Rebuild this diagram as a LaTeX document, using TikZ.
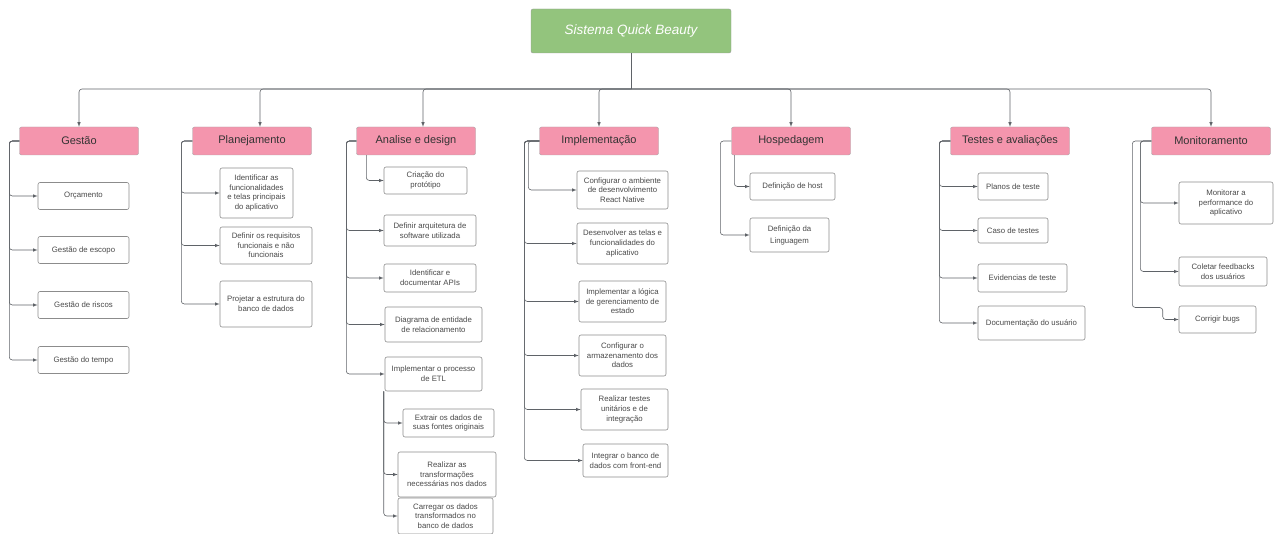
\documentclass[tikz,border=0pt]{standalone}
\usepackage{fontspec}
\setmainfont{Liberation Sans}
\usepackage{tikz}
\usetikzlibrary{arrows}

\definecolor{rootgreen}{HTML}{93C47D}
\definecolor{phasepink}{HTML}{F495AD}
\definecolor{linegray}{HTML}{5F6368}
\definecolor{textgray}{HTML}{4A4A4A}

\tikzstyle{root} = [rectangle, rounded corners=2pt, minimum width=200pt, minimum height=44pt, text centered, draw=black!40, fill=rootgreen, text=white, font=\fontsize{13.5}{15}\selectfont\itshape]
\tikzstyle{phase} = [rectangle, rounded corners=2pt, minimum width=119pt, minimum height=28pt, text centered, draw=black!35, fill=phasepink, text=black!80, font=\fontsize{11}{13}\selectfont]
\tikzstyle{task} = [rectangle, rounded corners=2pt, inner sep=1pt, align=center, draw=black!45, line width=0.6pt, fill=white, text=textgray, font=\fontsize{7.8}{9.6}\selectfont]
\tikzstyle{arrow} = [draw=linegray, line width=0.6pt, rounded corners=3pt, ->, >=latex]
\tikzstyle{line} = [draw=linegray, line width=0.6pt]

\begin{document}
\begin{tikzpicture}[x=1pt, y=-1pt]
\useasboundingbox (0,0) rectangle (1274,534);

% root and phases
\node (root) [root] at (631,31) {Sistema Quick Beauty};
\node (gestao) [phase] at (79,141) {Gestão};
\node (plan) [phase] at (252,141) {Planejamento};
\node (ana) [phase] at (416,141) {Analise e design};
\node (impl) [phase] at (599,141) {Implementação};
\node (hosp) [phase] at (791,141) {Hospedagem};
\node (test) [phase] at (1010,141) {Testes e avaliações};
\node (mon) [phase] at (1211,141) {Monitoramento};

\coordinate (bus) at (631,89);
\draw [line] (root.south) -- (bus);
\foreach \p/\dx in {gestao/0,plan/8,ana/7,impl/0,hosp/0,test/0,mon/0}
  \draw [arrow] (bus) -| ([xshift=\dx pt]\p.north);

% Gestao
\node (orc) [task, minimum width=91pt, minimum height=27pt] at (83.5,196) {Orçamento};
\node (escopo) [task, minimum width=91pt, minimum height=27pt] at (83.5,250) {Gestão de escopo};
\node (riscos) [task, minimum width=91pt, minimum height=27pt] at (83.5,305) {Gestão de riscos};
\node (tempo) [task, minimum width=91pt, minimum height=27pt] at (83.5,360) {Gestão do tempo};
\foreach \c in {orc,escopo,riscos,tempo}
  \draw [arrow] (gestao.west) -- ++(-10,0) |- (\c.west);

% Planejamento
\node (ident) [task, minimum width=73pt, minimum height=50pt] at (256.5,193) {Identificar as\\funcionalidades\\e telas principais\\do aplicativo};
\node (req) [task, minimum width=92pt, minimum height=37pt] at (266,245.5) {Definir os requisitos\\funcionais e não\\funcionais};
\node (proj) [task, minimum width=92pt, minimum height=46pt] at (266,304) {Projetar a estrutura do\\banco de dados};
\foreach \c in {ident,req,proj}
  \draw [arrow] (plan.west) -- ++(-11,0) |- (\c.west);

% Analise e design
\node (cria) [task, minimum width=83pt, minimum height=27pt] at (425.5,180.5) {Criação do\\protótipo};
\node (arq) [task, minimum width=92pt, minimum height=31pt] at (430,230.5) {Definir arquitetura de\\software utilizada};
\node (apis) [task, minimum width=92pt, minimum height=28pt] at (430,278) {Identificar e\\documentar APIs};
\node (der) [task, minimum width=97pt, minimum height=35pt] at (433.5,324.5) {Diagrama de entidade\\de relacionamento};
\node (etl) [task, minimum width=97pt, minimum height=34pt] at (433.5,374) {Implementar o processo\\de ETL};
\node (extr) [task, minimum width=91pt, minimum height=28pt] at (448.5,423) {Extrair os dados de\\suas fontes originais};
\node (transf) [task, minimum width=98pt, minimum height=45pt] at (447,474.5) {Realizar as\\transformações\\necessárias nos dados};
\node (carr) [task, minimum width=95pt, minimum height=36pt] at (445.5,516) {Carregar os dados\\transformados no\\banco de dados};
\draw [arrow] ([xshift=10pt]ana.south west) |- (cria.west);
\foreach \c in {arq,apis,der,etl}
  \draw [arrow] (ana.west) -- ++(-10,0) |- (\c.west);
\foreach \c in {extr,transf,carr}
  \draw [arrow] ([xshift=-1pt]etl.south west) |- (\c.west);

% Implementacao
\node (amb) [task, minimum width=91pt, minimum height=38pt] at (622.5,190) {Configurar o ambiente\\de desenvolvimento\\React Native};
\node (telas) [task, minimum width=91pt, minimum height=41pt] at (622.5,243.5) {Desenvolver as telas e\\funcionalidades do\\aplicativo};
\node (logica) [task, minimum width=87pt, minimum height=41pt] at (622.5,301.5) {Implementar a lógica\\de gerenciamento de\\estado};
\node (armaz) [task, minimum width=87pt, minimum height=41pt] at (622.5,355.5) {Configurar o\\armazenamento dos\\dados};
\node (testun) [task, minimum width=87pt, minimum height=41pt] at (624.5,409.5) {Realizar testes\\unitários e de\\integração};
\node (integ) [task, minimum width=85pt, minimum height=33pt] at (625.5,460.5) {Integrar o banco de\\dados com front-end};
\draw [arrow] (impl.west) -- ++(-11,0) |- (amb.west);
\foreach \c in {telas,logica,armaz,testun,integ}
  \draw [arrow] (impl.west) -- ++(-15,0) |- (\c.west);

% Hospedagem
\node (host) [task, minimum width=85pt, minimum height=27pt] at (792.5,186.5) {Definição de host};
\node (ling) [task, minimum width=79pt, minimum height=34pt, font=\fontsize{7.8}{12}\selectfont] at (789.5,235) {Definição da\\Linguagem};
\draw [arrow] ([xshift=3pt]hosp.south west) |- (host.west);
\draw [arrow] (hosp.west) -- ++(-11,0) |- (ling.west);

% Testes e avaliacoes
\node (planos) [task, minimum width=70pt, minimum height=27pt] at (1013,186.5) {Planos de teste};
\node (caso) [task, minimum width=70pt, minimum height=25pt] at (1013,230.5) {Caso de testes};
\node (evid) [task, minimum width=89pt, minimum height=28pt] at (1022.5,278) {Evidencias de teste};
\node (doc) [task, minimum width=107pt, minimum height=34pt] at (1031.5,323) {Documentação do usuário};
\foreach \c in {planos,caso,evid,doc}
  \draw [arrow] (test.west) -- ++(-11,0) |- (\c.west);

% Monitoramento
\node (perf) [task, minimum width=94pt, minimum height=42pt] at (1226,203) {Monitorar a\\performance do\\aplicativo};
\node (feed) [task, minimum width=88pt, minimum height=29pt] at (1223,271.5) {Coletar feedbacks\\dos usuários};
\node (bugs) [task, minimum width=77pt, minimum height=27pt] at (1217.5,319.5) {Corrigir bugs};
\foreach \c in {perf,feed}
  \draw [arrow] (mon.west) -- ++(-11,0) |- (\c.west);
\draw [arrow] (mon.west) -- ++(-19,0) |- ([xshift=-16pt,yshift=12pt]bugs.west) -- ([xshift=-16pt]bugs.west) -- (bugs.west);

\end{tikzpicture}
\end{document}
